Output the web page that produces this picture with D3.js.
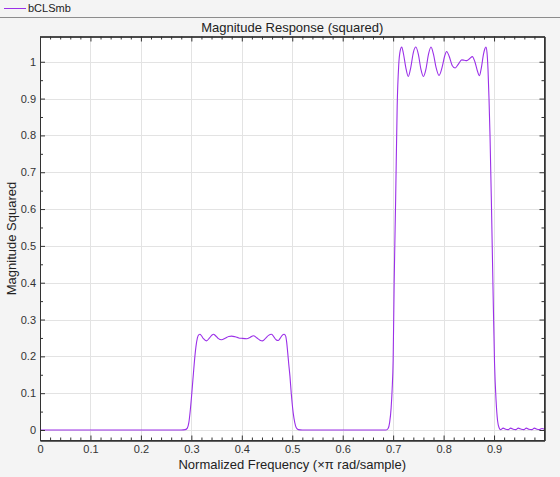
<!DOCTYPE html>
<html><head><meta charset="utf-8">
<script src="https://cdn.jsdelivr.net/npm/d3@7"></script>
<style>html,body{margin:0;padding:0;background:#f4f4f4;}svg{display:block;font-family:"Liberation Sans",Arial,sans-serif;}</style>
</head><body>
<svg id="c" width="560" height="477"></svg>
<script>
const seriesName = "bCLSmb";
const titleText = "Magnitude Response (squared)";
const xLabel = "Normalized Frequency (\u00d7\u03c0 rad/sample)";
const yLabel = "Magnitude Squared";
const xTicks = [0,0.1,0.2,0.3,0.4,0.5,0.6,0.7,0.8,0.9];
const yTicks = [0,0.1,0.2,0.3,0.4,0.5,0.6,0.7,0.8,0.9,1];
const yTickLabels = ["0","0.1","0.2","0.3","0.4","0.5","0.6","0.7","0.8","0.9","1"];

const freq = [0,0.1,0.2,0.28,0.288,0.292,0.295,0.298,0.300,0.303,0.306,0.309,0.312,0.315,0.317,0.320,0.324,0.330,0.336,0.341,0.344,0.348,0.353,0.360,0.367,0.374,0.380,0.387,0.394,0.400,0.410,0.417,0.423,0.430,0.436,0.441,0.447,0.453,0.459,0.464,0.468,0.472,0.476,0.480,0.484,0.487,0.489,0.491,0.493,0.4955,0.498,0.500,0.502,0.505,0.508,0.512,0.52,0.6,0.686,0.690,0.693,0.696,0.698,0.700,0.702,0.705,0.708,0.711,0.714,0.717,0.720,0.725,0.730,0.735,0.740,0.745,0.750,0.755,0.760,0.765,0.770,0.775,0.780,0.785,0.791,0.797,0.802,0.806,0.811,0.817,0.823,0.829,0.836,0.841,0.846,0.852,0.857,0.862,0.867,0.871,0.875,0.879,0.882,0.884,0.886,0.888,0.890,0.892,0.895,0.898,0.901,0.904,0.907,0.910,0.913,0.918,0.923,0.928,0.933,0.938,0.943,0.948,0.954,0.959,0.964,0.969,0.975,0.980,0.985,0.990,0.995,1.0];
const magSq = [0,0,0,0,0.001,0.005,0.02,0.055,0.085,0.135,0.185,0.225,0.25,0.259,0.26,0.256,0.248,0.242,0.25,0.258,0.26,0.256,0.249,0.245,0.249,0.254,0.255,0.253,0.25,0.249,0.248,0.252,0.256,0.25,0.244,0.242,0.249,0.257,0.26,0.252,0.245,0.243,0.249,0.257,0.26,0.255,0.238,0.21,0.18,0.145,0.1,0.07,0.045,0.02,0.006,0.001,0,0,0,0.004,0.02,0.06,0.11,0.19,0.40,0.63,0.88,0.99,1.03,1.04,1.025,0.985,0.96,0.985,1.025,1.04,1.02,0.98,0.96,0.98,1.02,1.04,1.02,0.985,0.963,0.985,1.015,1.028,1.015,0.99,0.983,0.993,1.005,1.004,1.003,1.009,1.014,1.0,0.975,0.962,0.985,1.02,1.036,1.04,1.025,0.98,0.9,0.8,0.6,0.38,0.18,0.08,0.025,0.006,0.001,0.005,0.002,0.001,0.005,0.002,0.001,0.005,0.002,0.001,0.005,0.002,0.001,0.005,0.002,0.001,0.004,0.002];

const W = 560, H = 477;
const L = 40, R = 544.5, T = 36.5, B = 440.5;
const svg = d3.select("#c");

const x = d3.scaleLinear().domain([0,1]).range([L,R]);
const y = d3.scaleLinear().domain([-0.0285,1.0686]).range([B,T]);

// legend
svg.append("line").attr("x1",4).attr("x2",26).attr("y1",8.5).attr("y2",8.5).attr("stroke","#9b30e8").attr("stroke-width",1);
svg.append("text").attr("x",28).attr("y",12).attr("font-size",11).attr("fill","#222").text(seriesName);
svg.append("line").attr("x1",0).attr("x2",W).attr("y1",17.5).attr("y2",17.5).attr("stroke","#8c8c8c");

// plot background
svg.append("rect").attr("x",L).attr("y",T).attr("width",R-L).attr("height",B-T).attr("fill","#fff");

// grid
const g = svg.append("g");
g.selectAll(".gx").data(xTicks.concat([1])).enter().append("line")
 .attr("x1",d=>Math.round(x(d))+0.5).attr("x2",d=>Math.round(x(d))+0.5).attr("y1",T).attr("y2",B).attr("stroke","#e3e3e3");
g.selectAll(".gy").data(yTicks).enter().append("line")
 .attr("y1",d=>Math.round(y(d))+0.5).attr("y2",d=>Math.round(y(d))+0.5).attr("x1",L).attr("x2",R).attr("stroke","#e3e3e3");

// curve
const line = d3.line().x((d,i)=>x(freq[i])).y((d,i)=>y(magSq[i])).curve(d3.curveMonotoneX);
svg.append("path").datum(magSq).attr("d",line).attr("fill","none").attr("stroke","#9b30e8").attr("stroke-width",1.1);

// axes with inside ticks
const minorX = d3.range(0,1.0001,0.02).filter(v=>Math.abs(v*10-Math.round(v*10))>1e-6);
const minorY = [0.05,0.15,0.25,0.35,0.45,0.55,0.65,0.75,0.85,0.95];
const axisColor = "#333";

svg.append("g").attr("transform",`translate(0,${B})`)
 .call(d3.axisBottom(x).tickValues(xTicks).tickSizeInner(-5).tickSizeOuter(0).tickPadding(5).tickFormat(d3.format("")));
svg.append("g").attr("transform",`translate(0,${T})`)
 .call(d3.axisTop(x).tickValues(xTicks).tickSizeInner(-5).tickSizeOuter(0).tickFormat(""));
svg.append("g").attr("transform",`translate(${L},0)`)
 .call(d3.axisLeft(y).tickValues(yTicks).tickSizeInner(-5).tickSizeOuter(0).tickPadding(4).tickFormat((d,i)=>yTickLabels[i]));
svg.append("g").attr("transform",`translate(${R},0)`)
 .call(d3.axisRight(y).tickValues(yTicks).tickSizeInner(-5).tickSizeOuter(0).tickFormat(""));
// minor
svg.append("g").attr("transform",`translate(0,${B})`).call(d3.axisBottom(x).tickValues(minorX).tickSizeInner(-3).tickSizeOuter(0).tickFormat(""));
svg.append("g").attr("transform",`translate(0,${T})`).call(d3.axisTop(x).tickValues(minorX).tickSizeInner(-3).tickSizeOuter(0).tickFormat(""));
svg.append("g").attr("transform",`translate(${L},0)`).call(d3.axisLeft(y).tickValues(minorY).tickSizeInner(-3).tickSizeOuter(0).tickFormat(""));
svg.append("g").attr("transform",`translate(${R},0)`).call(d3.axisRight(y).tickValues(minorY).tickSizeInner(-3).tickSizeOuter(0).tickFormat(""));

svg.selectAll(".domain").attr("stroke",axisColor);
svg.selectAll(".tick line").attr("stroke",axisColor);
svg.selectAll(".tick text").attr("font-size",11).attr("fill","#333").attr("font-family","Liberation Sans, Arial, sans-serif");
// frame
svg.append("rect").attr("x",L+0.5).attr("y",T+0.5).attr("width",R-L-0.5).attr("height",B-T-0.5).attr("fill","none").attr("stroke",axisColor);

// labels
svg.append("text").attr("x",(L+R)/2).attr("y",32).attr("text-anchor","middle").attr("font-size",13).attr("fill","#222").text(titleText);
svg.append("text").attr("x",(L+R)/2).attr("y",469).attr("text-anchor","middle").attr("font-size",13).attr("fill","#222").text(xLabel);
svg.append("text").attr("transform",`translate(16,${(T+B)/2}) rotate(-90)`).attr("text-anchor","middle").attr("font-size",13).attr("fill","#222").text(yLabel);
</script>
</body></html>
